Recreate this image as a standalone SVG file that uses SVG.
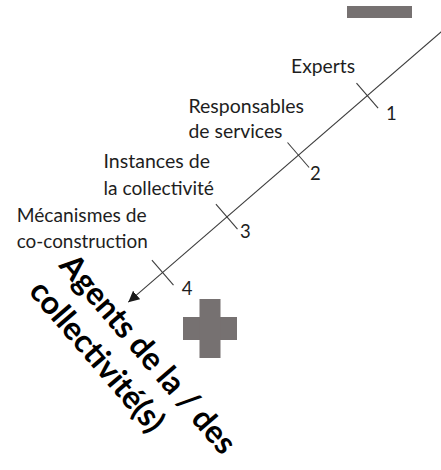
<svg xmlns="http://www.w3.org/2000/svg" width="441" height="470" viewBox="0 0 441 470">
  <style>
    .lbl { font-family: Lato, "Open Sans", "Liberation Sans", sans-serif; font-size: 18.5px; fill: #1e1e1e; }
    .big { font-family: Lato, "Open Sans", "Liberation Sans", sans-serif; font-size: 32px; font-weight: bold; fill: #000; }
    .axis { stroke: #3c3c3c; stroke-width: 1.1; fill: none; }
    .sign { fill: #767171; }
  </style>
  <defs>
    <marker id="arrow" markerUnits="userSpaceOnUse" markerWidth="12" markerHeight="12" refX="11" refY="5.5" orient="auto">
      <path d="M0,0 L11,5.5 L0,11 Z" fill="#1a1a1a"/>
    </marker>
  </defs>

  <g id="minus">
    <rect class="sign" x="347" y="6" width="65" height="12"/>
  </g>

  <g id="plus">
    <rect class="sign" x="183" y="317" width="54" height="23"/>
    <rect class="sign" x="199.5" y="299" width="21" height="59"/>
  </g>

  <g id="connectors">
    <line class="axis" x1="445" y1="28.5" x2="128.3" y2="302.2" marker-end="url(#arrow)"/>
    <line class="axis" x1="356.5" y1="83.2" x2="378.1" y2="108.2"/>
    <line class="axis" x1="287.5" y1="142.5" x2="309.1" y2="167.5"/>
    <line class="axis" x1="215.9" y1="204.2" x2="237.5" y2="229.2"/>
    <line class="axis" x1="151.9" y1="260.2" x2="173.5" y2="285.2"/>
  </g>

  <g id="step-1">
    <text class="lbl" x="291" y="73.3" textLength="64" lengthAdjust="spacingAndGlyphs">Experts</text>
    <text class="lbl" x="386" y="120">1</text>
  </g>

  <g id="step-2">
    <text class="lbl" x="188.5" y="113" textLength="115.5" lengthAdjust="spacingAndGlyphs">Responsables</text>
    <text class="lbl" x="188.5" y="138" textLength="94" lengthAdjust="spacingAndGlyphs">de services</text>
    <text class="lbl" x="310" y="180">2</text>
  </g>

  <g id="step-3">
    <text class="lbl" x="103.5" y="168.3" textLength="106.5" lengthAdjust="spacingAndGlyphs">Instances de</text>
    <text class="lbl" x="103.5" y="195" textLength="110.5" lengthAdjust="spacingAndGlyphs">la collectivité</text>
    <text class="lbl" x="240" y="238.3">3</text>
  </g>

  <g id="step-4">
    <text class="lbl" x="16.7" y="221.7" textLength="130" lengthAdjust="spacingAndGlyphs">Mécanismes de</text>
    <text class="lbl" x="16.7" y="248.3" textLength="131" lengthAdjust="spacingAndGlyphs">co-construction</text>
    <text class="lbl" x="181.7" y="295">4</text>
  </g>

  <g id="target" transform="translate(58,266) rotate(49.3)">
    <text class="big" x="0" y="0" textLength="251" lengthAdjust="spacingAndGlyphs">Agents de la / des</text>
    <text class="big" x="0" y="40" textLength="188" lengthAdjust="spacingAndGlyphs">collectivité(s)</text>
  </g>
</svg>
